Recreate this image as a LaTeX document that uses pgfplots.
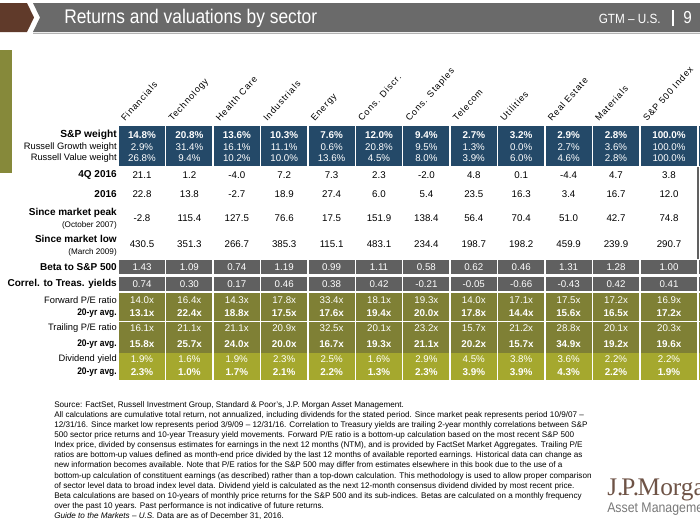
\documentclass[border=0pt]{standalone}
\usepackage{pgfplots}
\pgfplotsset{compat=1.18}
\usepackage{pgfplotstable}
\usepackage{fontspec}
\setmainfont{Liberation Sans}
\newfontfamily\condfont[FakeStretch=0.88]{Liberation Sans}
\newfontfamily\spacedfont[LetterSpace=10]{Liberation Sans}
\newfontfamily\jpfont{Liberation Serif}

\definecolor{navy}{RGB}{36,73,104}
\definecolor{boxgray}{RGB}{96,96,96}
\definecolor{olive}{RGB}{127,128,53}
\definecolor{lime}{RGB}{165,168,46}
\definecolor{sideolive}{RGB}{134,137,58}
\definecolor{headgray}{RGB}{106,106,106}
\definecolor{brown}{RGB}{96,58,42}
\definecolor{jpbrown}{RGB}{110,83,70}
\definecolor{jpgray}{RGB}{120,120,120}

\pgfplotstableread{
x sp rg rv q4 yr peak low beta corr fpe fpeavg tpe tpeavg dy dyavg
142 14.8 2.9 26.8 21.1 22.8 -2.8 430.5 1.43 0.74 14.0 13.1 16.1 15.8 1.9 2.3
189.4 20.8 31.4 9.4 1.2 13.8 115.4 351.3 1.09 0.30 16.4 22.4 21.1 25.7 1.6 1.0
236.8 13.6 16.1 10.2 -4.0 -2.7 127.5 266.7 0.74 0.17 14.3 18.8 21.1 24.0 1.9 1.7
284.2 10.3 11.1 10.0 7.2 18.9 76.6 385.3 1.19 0.46 17.8 17.5 20.9 20.0 2.3 2.1
331.6 7.6 0.6 13.6 7.3 27.4 17.5 115.1 0.99 0.38 33.4 17.6 32.5 16.7 2.5 2.2
379 12.0 20.8 4.5 2.3 6.0 151.9 483.1 1.11 0.42 18.1 19.4 20.1 19.3 1.6 1.3
426.4 9.4 9.5 8.0 -2.0 5.4 138.4 234.4 0.58 -0.21 19.3 20.0 23.2 21.1 2.9 2.3
473.8 2.7 1.3 3.9 4.8 23.5 56.4 198.7 0.62 -0.05 14.0 17.8 15.7 20.2 4.5 3.9
521.2 3.2 0.0 6.0 0.1 16.3 70.4 198.2 0.46 -0.66 17.1 14.4 21.2 15.7 3.8 3.9
568.6 2.9 2.7 4.6 -4.4 3.4 51.0 459.9 1.31 -0.43 17.5 15.6 28.8 34.9 3.6 4.3
616 2.8 3.6 2.8 4.7 16.7 42.7 239.9 1.28 0.42 17.2 16.5 20.1 19.2 2.2 2.2
669 100.0 100.0 100.0 3.8 12.0 74.8 290.7 1.00 0.41 16.9 17.2 20.3 19.6 2.2 1.9
}\data

\pgfplotsset{
  valrow/.style={draw=none, nodes near coords, point meta=explicit symbolic,
    nodes near coords style={anchor=center, inner sep=0pt, text=black,
      font=\fontsize{7.3}{8}\selectfont}},
  white/.style={nodes near coords style={text=white}},
  bold/.style={nodes near coords style={font=\bfseries\fontsize{7.4}{8}\selectfont}},
}

\newcommand{\rowlab}[3]{\node[anchor=east, inner sep=0pt, font=#3] at (axis cs:117,#1) {#2};}
\newcommand{\seclab}[2]{\node[rotate=48, anchor=base west, inner sep=0pt, font=\spacedfont\fontsize{6.8}{8}\selectfont] at (axis cs:#1,122) {#2};}

\begin{document}
\begin{tikzpicture}
\begin{axis}[
  scale only axis, width=525pt, height=393.75pt,
  xmin=0, xmax=700, ymin=0, ymax=525, y dir=reverse,
  hide axis, clip=false,
]
\coordinate (ll) at (axis cs:0,525);
\coordinate (ur) at (axis cs:700,0);

% header
\fill[brown] (axis cs:0,3) -- (axis cs:27,3) -- (axis cs:34,17.5) -- (axis cs:27,32) -- (axis cs:0,32) -- cycle;
\fill[headgray] (axis cs:33,3) -- (axis cs:700,3) -- (axis cs:700,32) -- (axis cs:33,32) -- (axis cs:40,17.5) -- cycle;
\draw[gray!60, line width=0.6pt] (axis cs:33,33) -- (axis cs:700,33);
\node[anchor=west, inner sep=0pt, text=white, font=\condfont\fontsize{14.8}{16}\selectfont] at (axis cs:64,18) {Returns and valuations by sector};
\node[anchor=east, inner sep=0pt, text=white, font=\condfont\fontsize{10}{12}\selectfont] at (axis cs:661,18.5) {GTM – U.S.};
\draw[white, line width=1.2pt] (axis cs:673,10) -- (axis cs:673,26);
\node[anchor=west, inner sep=0pt, text=white, font=\condfont\fontsize{13}{15}\selectfont] at (axis cs:683,18) {9};

% left olive bar
\fill[sideolive] (axis cs:0,50) rectangle (axis cs:12,173);

% boxes
\pgfplotsinvokeforeach{0,...,10}{
  \fill[navy] (axis cs:{119+47.4*#1},126) rectangle (axis cs:{165+47.4*#1},166);
  \fill[boxgray] (axis cs:{119+47.4*#1},260) rectangle (axis cs:{165+47.4*#1},274);
  \fill[boxgray] (axis cs:{119+47.4*#1},277) rectangle (axis cs:{165+47.4*#1},291);
  \fill[olive] (axis cs:{119+47.4*#1},293) rectangle (axis cs:{165+47.4*#1},320.5);
  \fill[olive] (axis cs:{119+47.4*#1},322) rectangle (axis cs:{165+47.4*#1},352.5);
  \fill[lime] (axis cs:{119+47.4*#1},352.5) rectangle (axis cs:{165+47.4*#1},380);
}
\pgfplotsinvokeforeach{641,699}{
  \fill[navy] (axis cs:#1,126) rectangle (axis cs:#1+56,166);
  \fill[boxgray] (axis cs:#1,260) rectangle (axis cs:#1+56,274);
  \fill[boxgray] (axis cs:#1,277) rectangle (axis cs:#1+56,291);
  \fill[olive] (axis cs:#1,293) rectangle (axis cs:#1+56,320.5);
  \fill[olive] (axis cs:#1,322) rectangle (axis cs:#1+56,352.5);
  \fill[lime] (axis cs:#1,352.5) rectangle (axis cs:#1+56,380);
}
\draw[boxgray, line width=1.1pt] (axis cs:698,167) -- (axis cs:698,259);

% sector names
\seclab{125}{Financials}
\seclab{172.4}{Technology}
\seclab{219.8}{Health Care}
\seclab{267.2}{Industrials}
\seclab{314.6}{Energy}
\seclab{362}{Cons. Discr.}
\seclab{409.4}{Cons. Staples}
\seclab{456.8}{Telecom}
\seclab{504.2}{Utilities}
\seclab{551.6}{Real Estate}
\seclab{599}{Materials}
\seclab{647}{S\&P 500 Index}

% row labels
\rowlab{135}{S\&P weight}{\bfseries\fontsize{7.7}{9}\selectfont}
\rowlab{147}{Russell Growth weight}{\fontsize{7}{9}\selectfont}
\rowlab{158}{Russell Value weight}{\fontsize{7}{9}\selectfont}
\rowlab{175}{4Q 2016}{\bfseries\fontsize{7.5}{9}\selectfont}
\rowlab{194}{2016}{\bfseries\fontsize{7.5}{9}\selectfont}
\rowlab{213}{Since market peak}{\bfseries\fontsize{7.5}{9}\selectfont}
\rowlab{225.5}{(October 2007)}{\fontsize{6.1}{8}\selectfont}
\rowlab{239}{Since market low}{\bfseries\fontsize{7.5}{9}\selectfont}
\rowlab{252}{(March 2009)}{\fontsize{6.1}{8}\selectfont}
\rowlab{267}{Beta to S\&P 500}{\bfseries\fontsize{7.5}{9}\selectfont}
\rowlab{284}{Correl. to Treas. yields}{\bfseries\fontsize{7.5}{9}\selectfont}
\rowlab{300}{Forward P/E ratio}{\fontsize{7}{9}\selectfont}
\rowlab{313.5}{20-yr avg.}{\condfont\bfseries\fontsize{7.2}{9}\selectfont}
\rowlab{328}{Trailing P/E ratio}{\fontsize{7}{9}\selectfont}
\rowlab{344}{20-yr avg.}{\condfont\bfseries\fontsize{7.2}{9}\selectfont}
\rowlab{359}{Dividend yield}{\fontsize{7}{9}\selectfont}
\rowlab{372.5}{20-yr avg.}{\condfont\bfseries\fontsize{7.2}{9}\selectfont}

% values
\addplot[valrow, white, bold, nodes near coords={\pgfplotspointmeta\%}] table[x=x, y expr=135, meta=sp] {\data};
\addplot[valrow, white, nodes near coords={\pgfplotspointmeta\%}] table[x=x, y expr=147, meta=rg] {\data};
\addplot[valrow, white, nodes near coords={\pgfplotspointmeta\%}] table[x=x, y expr=158, meta=rv] {\data};
\addplot[valrow] table[x=x, y expr=175, meta=q4] {\data};
\addplot[valrow] table[x=x, y expr=194, meta=yr] {\data};
\addplot[valrow] table[x=x, y expr=218, meta=peak] {\data};
\addplot[valrow] table[x=x, y expr=244, meta=low] {\data};
\addplot[valrow, white] table[x=x, y expr=267, meta=beta] {\data};
\addplot[valrow, white] table[x=x, y expr=284, meta=corr] {\data};
\addplot[valrow, white, nodes near coords={\pgfplotspointmeta x}] table[x=x, y expr=300, meta=fpe] {\data};
\addplot[valrow, white, bold, nodes near coords={\pgfplotspointmeta x}] table[x=x, y expr=313.5, meta=fpeavg] {\data};
\addplot[valrow, white, nodes near coords={\pgfplotspointmeta x}] table[x=x, y expr=328, meta=tpe] {\data};
\addplot[valrow, white, bold, nodes near coords={\pgfplotspointmeta x}] table[x=x, y expr=344, meta=tpeavg] {\data};
\addplot[valrow, white, nodes near coords={\pgfplotspointmeta\%}] table[x=x, y expr=359, meta=dy] {\data};
\addplot[valrow, white, bold, nodes near coords={\pgfplotspointmeta\%}] table[x=x, y expr=372.5, meta=dyavg] {\data};

% footnote
\node[anchor=north west, inner sep=0pt, align=left, font=\fontsize{6.1}{7.6}\selectfont] at (axis cs:54,401) {%
Source: FactSet, Russell Investment Group, Standard \& Poor's, J.P. Morgan Asset Management.\\
All calculations are cumulative total return, not annualized, including dividends for the stated period. Since market peak represents period 10/9/07 –\\
12/31/16. Since market low represents period 3/9/09 – 12/31/16. Correlation to Treasury yields are trailing 2-year monthly correlations between S\&P\\
500 sector price returns and 10-year Treasury yield movements. Forward P/E ratio is a bottom-up calculation based on the most recent S\&P 500\\
Index price, divided by consensus estimates for earnings in the next 12 months (NTM), and is provided by FactSet Market Aggregates. Trailing P/E\\
ratios are bottom-up values defined as month-end price divided by the last 12 months of available reported earnings. Historical data can change as\\
new information becomes available. Note that P/E ratios for the S\&P 500 may differ from estimates elsewhere in this book due to the use of a\\
bottom-up calculation of constituent earnings (as described) rather than a top-down calculation. This methodology is used to allow proper comparison\\
of sector level data to broad index level data. Dividend yield is calculated as the next 12-month consensus dividend divided by most recent price.\\
Beta calculations are based on 10-years of monthly price returns for the S\&P 500 and its sub-indices. Betas are calculated on a monthly frequency\\
over the past 10 years. Past performance is not indicative of future returns.\\
\textit{Guide to the Markets – U.S.} Data are as of December 31, 2016.};

% logo
\node[anchor=base west, inner sep=0pt, text=jpbrown, font=\jpfont\fontsize{19}{22}\selectfont] at (axis cs:607,495) {J.\kern-1.5pt P.\kern-1pt Morgan};
\node[anchor=base west, inner sep=0pt, text=jpgray, font=\condfont\fontsize{10.5}{12}\selectfont] at (axis cs:607,512) {Asset Management};
\end{axis}
\pgfresetboundingbox
\useasboundingbox (ll) rectangle (ur);
\end{tikzpicture}
\end{document}
